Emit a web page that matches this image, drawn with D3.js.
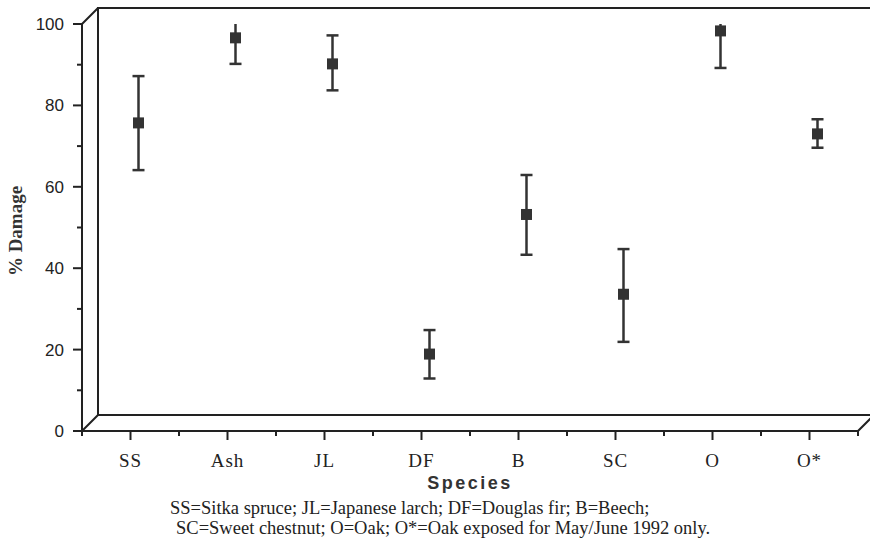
<!DOCTYPE html>
<html>
<head>
<meta charset="utf-8">
<script src="https://cdn.jsdelivr.net/npm/d3@7"></script>
<style>
  body { margin: 0; background: #fff; }
  .frame { fill: none; stroke: #222; stroke-width: 2; }
  .err { stroke: #333; stroke-width: 2.5; }
</style>
</head>
<body>
<div id="chart"></div>
<script>
// Data
var species = ["SS", "Ash", "JL", "DF", "B", "SC", "O", "O*"];
var meanDamage = [75.7, 96.6, 90.2, 18.9, 53.2, 33.6, 98.3, 73.0];
var lowerDamage = [64.1, 90.2, 83.7, 12.9, 43.3, 21.9, 89.2, 69.6];
var upperDamage = [87.2, 100, 97.2, 24.8, 62.9, 44.7, 100, 76.6];
var majorTicks = [0, 20, 40, 60, 80, 100];
var minorTicks = [10, 30, 50, 70, 90];
var captionLines = [
  "SS=Sitka spruce; JL=Japanese larch; DF=Douglas fir; B=Beech;",
  "SC=Sweet chestnut; O=Oak; O*=Oak exposed for May/June 1992 only."
];

var svgWidth = 870;
var svgHeight = 543;

// front plane of the box, and the depth of the 3D offset
var boxLeft = 82, boxRight = 858, boxTop = 24, boxBottom = 431;
var depth = 16;

var svg = d3.select("#chart")
  .append("svg")
  .attr("width", svgWidth)
  .attr("height", svgHeight);

var xScale = d3.scaleBand()
  .domain(species)
  .range([boxLeft, boxRight])
  .padding(0);

var yScale = d3.scaleLinear()
  .domain([0, 100])
  .range([boxBottom, boxTop]);

var bw = xScale.bandwidth();
var y100 = yScale(100);

// back wall
svg.append("path")
  .classed("frame", true)
  .attr("d", "M" + (boxRight + depth) + "," + (y100 - depth) +
    "H" + (boxLeft + depth) + "V" + (boxBottom - depth) + "H" + (boxRight + depth) + "V" + (y100 - depth));

// front axes and the little diagonals
svg.append("path")
  .classed("frame", true)
  .attr("d", "M" + boxLeft + "," + y100 + "V" + boxBottom + "H" + boxRight +
    "M" + boxLeft + "," + y100 + "l" + depth + "," + (-depth) +
    "M" + boxLeft + "," + boxBottom + "l" + depth + "," + (-depth) +
    "M" + boxRight + "," + boxBottom + "l" + depth + "," + (-depth));

// y ticks
svg.selectAll(".ymajor")
  .data(majorTicks)
  .enter().append("line")
  .attr("class", "frame")
  .attr("x1", boxLeft - 9).attr("x2", boxLeft)
  .attr("y1", d => yScale(d)).attr("y2", d => yScale(d));

svg.selectAll(".yminor")
  .data(minorTicks)
  .enter().append("line")
  .attr("class", "frame")
  .attr("x1", boxLeft - 5).attr("x2", boxLeft)
  .attr("y1", d => yScale(d)).attr("y2", d => yScale(d));

svg.selectAll(".ylabel")
  .data(majorTicks)
  .enter().append("text")
  .attr("x", boxLeft - 18)
  .attr("y", d => yScale(d) + 6)
  .attr("text-anchor", "end")
  .style("font-family", "'Liberation Sans', Arial, sans-serif")
  .style("font-size", "17px")
  .style("fill", "#222")
  .text(d => d);

// x ticks: major at the centre, minor at the band edges
svg.selectAll(".xmajor")
  .data(species)
  .enter().append("line")
  .attr("class", "frame")
  .attr("x1", d => xScale(d) + bw / 2).attr("x2", d => xScale(d) + bw / 2)
  .attr("y1", boxBottom).attr("y2", boxBottom + 9);

svg.selectAll(".xminor")
  .data(species.concat(["end"]))
  .enter().append("line")
  .attr("class", "frame")
  .attr("x1", (d, i) => boxLeft + i * bw).attr("x2", (d, i) => boxLeft + i * bw)
  .attr("y1", boxBottom).attr("y2", boxBottom + 5);

svg.selectAll(".xlabel")
  .data(species)
  .enter().append("text")
  .attr("x", d => xScale(d) + bw / 2)
  .attr("y", 467)
  .attr("text-anchor", "middle")
  .style("font-family", "'Liberation Serif', 'Times New Roman', serif")
  .style("font-size", "19px")
  .style("letter-spacing", "1px")
  .style("fill", "#222")
  .text(d => d);

// axis titles
svg.append("text")
  .attr("x", (boxLeft + boxRight) / 2)
  .attr("y", 489)
  .attr("text-anchor", "middle")
  .style("font-family", "'Liberation Sans', Arial, sans-serif")
  .style("font-weight", "bold")
  .style("font-size", "18px")
  .style("letter-spacing", "2.5px")
  .style("fill", "#333")
  .text("Species");

svg.append("text")
  .attr("transform", "translate(22, 231) rotate(-90)")
  .attr("text-anchor", "middle")
  .style("font-family", "'Liberation Serif', 'Times New Roman', serif")
  .style("font-weight", "bold")
  .style("font-size", "19px")
  .style("fill", "#333")
  .text("% Damage");

// caption under the chart
svg.selectAll(".caption")
  .data(captionLines)
  .enter().append("text")
  .attr("x", (d, i) => i == 0 ? 170 : 176)
  .attr("y", (d, i) => 514 + i * 20)
  .style("font-family", "'Liberation Serif', 'Times New Roman', serif")
  .style("font-size", "18.5px")
  .style("fill", "#222")
  .text(d => d);

// error bars and points, drawn a bit into the box
var pts = species.map(function(s, i) {
  return { name: s, mean: meanDamage[i], lo: lowerDamage[i], hi: upperDamage[i] };
});
var cx = d => xScale(d.name) + bw / 2 + 8;

var bars = svg.selectAll(".bar")
  .data(pts)
  .enter().append("g");

bars.append("line")
  .attr("class", "err")
  .attr("x1", cx).attr("x2", cx)
  .attr("y1", d => yScale(d.lo)).attr("y2", d => yScale(d.hi));

bars.append("line")
  .attr("class", "err")
  .attr("x1", d => cx(d) - 6).attr("x2", d => cx(d) + 6)
  .attr("y1", d => yScale(d.lo)).attr("y2", d => yScale(d.lo));

// no cap where the bar runs into the 100 line
bars.filter(d => d.hi < 100).append("line")
  .attr("class", "err")
  .attr("x1", d => cx(d) - 6).attr("x2", d => cx(d) + 6)
  .attr("y1", d => yScale(d.hi)).attr("y2", d => yScale(d.hi));

bars.append("rect")
  .attr("x", d => cx(d) - 5.5)
  .attr("y", d => yScale(d.mean) - 5.5)
  .attr("width", 11)
  .attr("height", 11)
  .style("fill", "#333");
</script>
</body>
</html>
